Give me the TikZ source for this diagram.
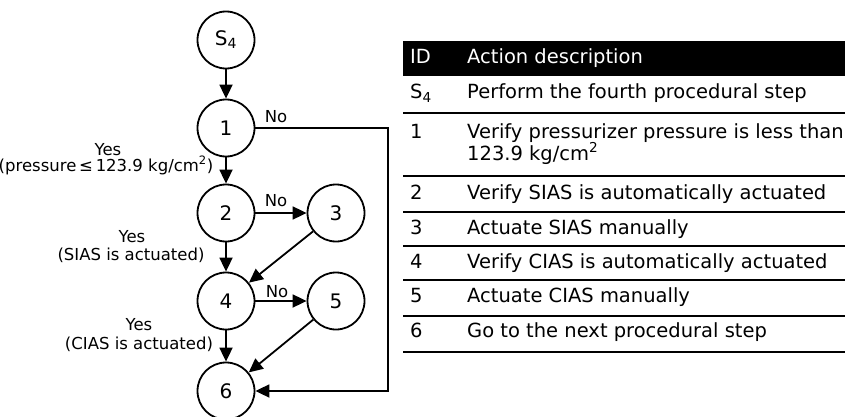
\documentclass[tikz,border=0pt]{standalone}
\usepackage{fontspec}
\setmainfont{DejaVu Sans}
\usetikzlibrary{arrows.meta}
\begin{document}
\begin{tikzpicture}[x=1pt,y=-1pt,
  state/.style={circle,draw,line width=1.8pt,minimum size=57pt,inner sep=0pt,
    font=\fontsize{20}{22}\selectfont},
  flow/.style={line width=1.8pt,-{Triangle[length=14pt,width=13pt]}},
  lbl/.style={font=\fontsize{16.5}{18}\selectfont,inner sep=0pt,anchor=base},
  cell/.style={font=\fontsize{19.5}{21}\selectfont,inner sep=0pt,anchor=base west},
  rule/.style={line width=1.8pt}]
\useasboundingbox (0,0) rectangle (845,417);

% flowchart states
\node[state] (s4) at (226,40) {S\textsubscript{4}};
\node[state] (n1) at (226,128) {1};
\node[state] (n2) at (226,213) {2};
\node[state] (n3) at (336,213) {3};
\node[state] (n4) at (226,301) {4};
\node[state] (n5) at (336,301) {5};
\node[state] (n6) at (226,391) {6};

\draw[flow] (s4) -- (n1);
\draw[flow] (n1) -- (n2);
\draw[flow] (n2) -- (n3);
\draw[flow] (n2) -- (n4);
\draw[flow] (n3) -- (n4);
\draw[flow] (n4) -- (n5);
\draw[flow] (n4) -- (n6);
\draw[flow] (n5) -- (n6);
\coordinate (c1) at (388,128);
\coordinate (c2) at (388,391);
\draw[flow] (n1.east) -- (c1) -- (c2) -- (n6.east);

% branch labels
\node[lbl] at (276,122) {No};
\node[lbl] at (276,206) {No};
\node[lbl] at (277,297) {No};
\node[lbl] (y1) at (108,155) {Yes};
\node[lbl] (p1) at (106,171) {(pressure\,≤\,123.9 kg/cm\textsuperscript{2})};
\node[lbl] (y2) at (132,242) {Yes};
\node[lbl] (p2) at (131,260) {(SIAS is actuated)};
\node[lbl] (y3) at (139,330) {Yes};
\node[lbl] (p3) at (139,349) {(CIAS is actuated)};

% action table
\fill (403,41) rectangle (845,76);
\node[cell,text=white] (hid) at (410,64) {ID};
\node[cell,text=white] (hdesc) at (467,64) {Action description};
\foreach \yy in {113,176,212,246,280,316,352}
  \draw[rule] (403,\yy) -- (845,\yy);
\node[cell] (id0) at (410,99) {S\textsubscript{4}};
\node[cell] (d0) at (467,99) {Perform the fourth procedural step};
\node[cell] (id1) at (410,139) {1};
\node[cell] (d1) at (467,139) {Verify pressurizer pressure is less than};
\node[cell] (d1b) at (467,160) {123.9 kg/cm\textsuperscript{2}};
\node[cell] (id2) at (410,199) {2};
\node[cell] (d2) at (467,199) {Verify SIAS is automatically actuated};
\node[cell] (id3) at (410,234) {3};
\node[cell] (d3) at (467,234) {Actuate SIAS manually};
\node[cell] (id4) at (410,268) {4};
\node[cell] (d4) at (467,268) {Verify CIAS is automatically actuated};
\node[cell] (id5) at (410,302) {5};
\node[cell] (d5) at (467,302) {Actuate CIAS manually};
\node[cell] (id6) at (410,337) {6};
\node[cell] (d6) at (467,337) {Go to the next procedural step};
\end{tikzpicture}
\end{document}
